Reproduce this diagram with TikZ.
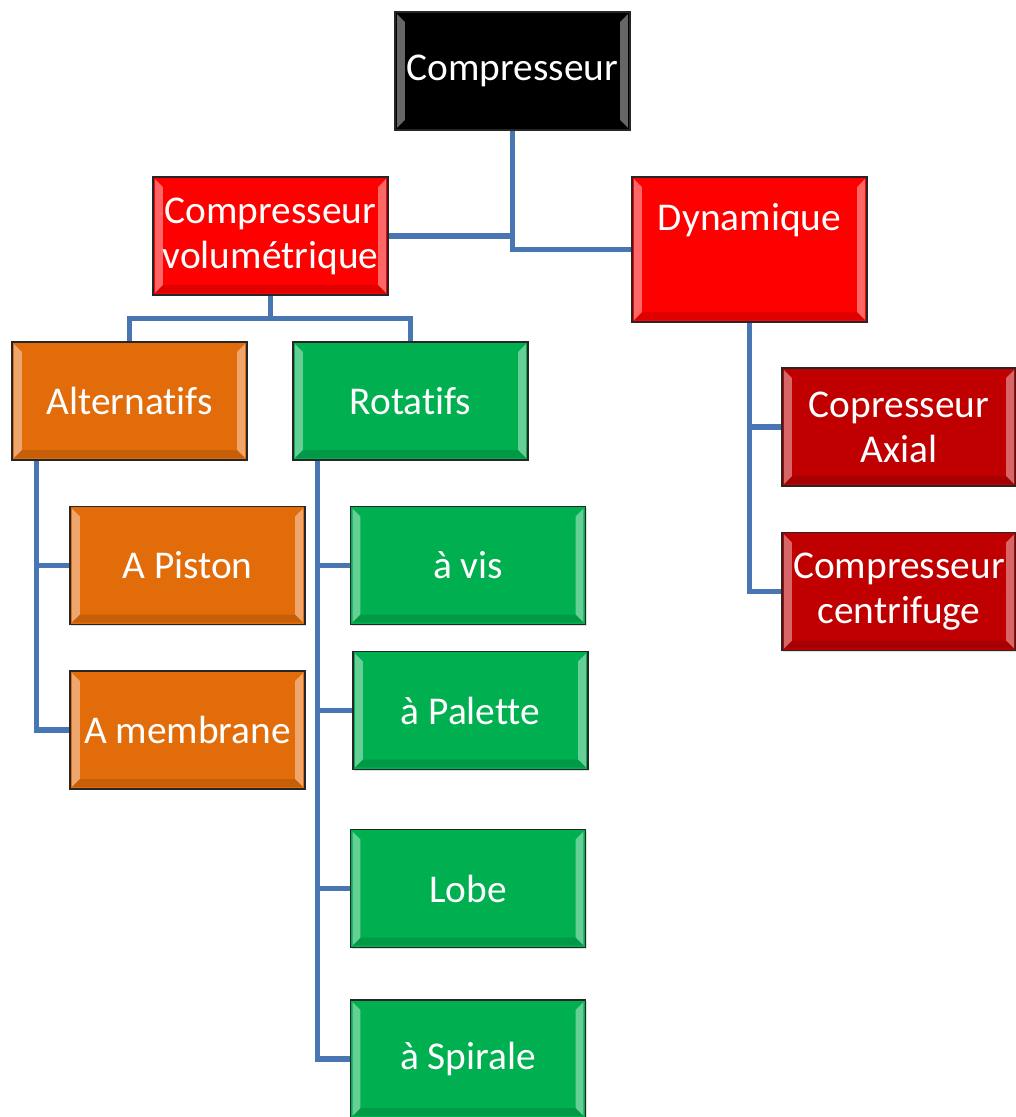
\documentclass[tikz,border=0pt]{standalone}
\usepackage{fontspec}
\setmainfont{Carlito}[Ligatures=NoCommon]
\usetikzlibrary{shadows}
\definecolor{bleulien}{RGB}{72,118,178}
\definecolor{orangebox}{RGB}{227,108,10}
\definecolor{vertbox}{RGB}{0,176,80}
\definecolor{rougebox}{RGB}{255,0,0}
\definecolor{rougefonce}{RGB}{192,0,0}
\tikzset{
	boite/.style={draw=black!85, line width=0.8pt, minimum width=5.875cm, minimum height=2.95cm,
		text=white, align=center, inner sep=1pt, font=\fontsize{28}{32}\selectfont,
		drop shadow={opacity=0.25, shadow xshift=1pt, shadow yshift=-1pt},
		path picture={
			\fill[white,opacity=.4] ([shift={(1.5pt,1.5pt)}]path picture bounding box.south west) -- ([shift={(7pt,7pt)}]path picture bounding box.south west) -- ([shift={(7pt,-7pt)}]path picture bounding box.north west) -- ([shift={(1.5pt,-1.5pt)}]path picture bounding box.north west) -- cycle;
			\fill[white,opacity=.4] ([shift={(-1.5pt,1.5pt)}]path picture bounding box.south east) -- ([shift={(-7pt,7pt)}]path picture bounding box.south east) -- ([shift={(-7pt,-7pt)}]path picture bounding box.north east) -- ([shift={(-1.5pt,-1.5pt)}]path picture bounding box.north east) -- cycle;
			\fill[black,opacity=.12] ([shift={(1.5pt,1.5pt)}]path picture bounding box.south west) -- ([shift={(7pt,7pt)}]path picture bounding box.south west) -- ([shift={(-7pt,7pt)}]path picture bounding box.south east) -- ([shift={(-1.5pt,1.5pt)}]path picture bounding box.south east) -- cycle;
		}},
	lien/.style={draw=bleulien, line width=3.6pt}
}
\begin{document}
\begin{tikzpicture}[x=0.025cm, y=-0.025cm]
	\useasboundingbox (0,0) rectangle (1016,1117);
	
	\node [boite, fill=black] (comp) at (512.5,71) {Compresseur};
	\node [boite, fill=rougebox] (vol) at (270.5,236) {Compresseur\\volumétrique};
	\node [boite, fill=rougebox, minimum height=3.625cm,
		label={[anchor=north, yshift=-19pt, inner sep=0pt, text=white, font=\fontsize{28}{32}\selectfont]north:Dynamique}] (dyn) at (749.5,249.5) {};
	
	\node [boite, fill=orangebox] (alt) at (129.5,401) {Alternatifs};
	\node [boite, fill=vertbox] (rot) at (410.5,401) {Rotatifs};
	
	\node [boite, fill=orangebox] (piston) at (187.5,565.5) {A Piston};
	\node [boite, fill=orangebox] (membrane) at (187.5,730) {A membrane};
	
	\node [boite, fill=vertbox] (vis) at (468,565.5) {à vis};
	\node [boite, fill=vertbox] (palette) at (470.5,710.5) {à Palette};
	\node [boite, fill=vertbox] (lobe) at (468,888.5) {Lobe};
	\node [boite, fill=vertbox] (spirale) at (468,1059) {à Spirale};
	
	\node [boite, fill=rougefonce, minimum width=5.85cm] (axial) at (899,427) {Copresseur\\Axial};
	\node [boite, fill=rougefonce, minimum width=5.85cm] (centri) at (899,591.5) {Compresseur\\centrifuge};
	
	\draw [lien] (vol.east) -| (comp.south);
	\draw [lien] (comp.south) |- (dyn.west);
	
	\draw [lien] (vol.south) -- ++(0,23) coordinate (vb) -| (alt.north);
	\draw [lien] (vb) -| (rot.north);
	
	\draw [lien] (alt.south west) ++(25,0) |- (piston.west);
	\draw [lien] (alt.south west) ++(25,0) |- (membrane.west);
	
	\draw [lien] (rot.south west) ++(25,0) |- (vis.west);
	\draw [lien] (rot.south west) ++(25,0) |- (palette.west);
	\draw [lien] (rot.south west) ++(25,0) |- (lobe.west);
	\draw [lien] (rot.south west) ++(25,0) |- (spirale.west);
	
	\draw [lien] (dyn.south) |- (axial.west);
	\draw [lien] (dyn.south) |- (centri.west);
\end{tikzpicture}
\end{document}
